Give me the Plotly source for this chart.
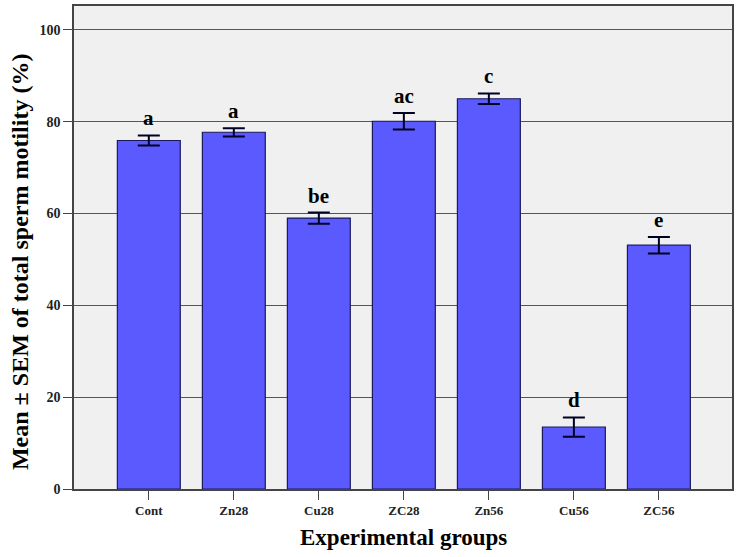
import plotly.graph_objects as go

groups = ["Cont", "Zn28", "Cu28", "ZC28", "Zn56", "Cu56", "ZC56"]
means = [75.9, 77.7, 59.0, 80.1, 85.0, 13.5, 53.1]
sems = [1.1, 0.9, 1.2, 1.8, 1.15, 2.1, 1.8]
letters = ["a", "a", "be", "ac", "c", "d", "e"]
yticks = [0, 20, 40, 60, 80, 100]

serif = "Liberation Serif"

fig = go.Figure()
fig.add_trace(go.Bar(
    x=groups,
    y=means,
    width=0.74,
    marker=dict(color="#5a5aff", line=dict(color="#1a1a5a", width=1.2)),
    error_y=dict(type="data", array=sems, visible=True,
                 color="#000022", thickness=2, width=11),
    showlegend=False,
))

for g, m, s, lab in zip(groups, means, sems, letters):
    fig.add_annotation(
        x=g, y=m + s, text=lab, showarrow=False,
        yanchor="bottom", yshift=3,
        font=dict(family=serif, size=21, color="black", weight="bold"),
    )

# axis titles
fig.add_annotation(
    xref="paper", yref="paper", x=0.5, y=-0.101,
    text="Experimental groups", showarrow=False,
    xanchor="center", yanchor="middle",
    font=dict(family=serif, size=23, color="black", weight="bold"),
)
fig.add_annotation(
    xref="paper", yref="paper", x=-0.082, y=0.47,
    text="Mean ± SEM of total sperm motility (%)", showarrow=False,
    textangle=-90, xanchor="center", yanchor="middle",
    font=dict(family=serif, size=24, color="black", weight="bold"),
)

fig.update_layout(
    width=741, height=557,
    margin=dict(l=74, r=9, t=6, b=68, autoexpand=False),
    paper_bgcolor="white",
    plot_bgcolor="#f0f0f0",
    font=dict(family=serif, color="black"),
)
fig.update_xaxes(
    range=[-0.88, 6.86], automargin=False,
    showline=True, mirror=True, linecolor="#444444", linewidth=1.5,
    ticks="outside", ticklen=9, tickcolor="#444444",
    tickfont=dict(family=serif, size=13, color="#222222", weight="bold"),
    showgrid=False,
)
fig.update_yaxes(
    range=[0, 105.2], automargin=False,
    tickvals=yticks,
    showline=True, mirror=True, linecolor="#444444", linewidth=1.5,
    ticks="outside", ticklen=9, tickcolor="#444444",
    tickfont=dict(family=serif, size=14, color="#222222", weight="bold"),
    showgrid=True, gridcolor="#555555", gridwidth=1.2,
    zeroline=False,
)

# drop the default page margin so the figure sits at the window's corner
fig.write_html("out.html", config={"displayModeBar": False},
               post_script="document.body.style.margin='0px';")
